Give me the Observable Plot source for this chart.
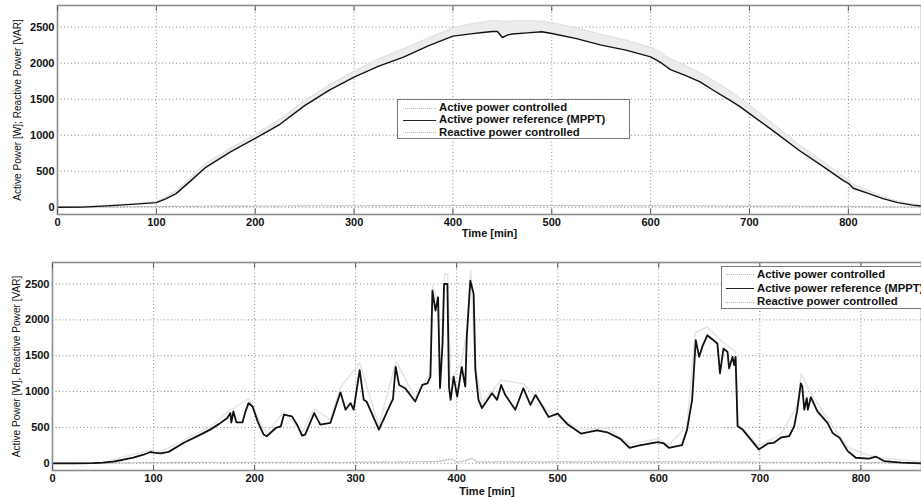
<!DOCTYPE html>
<html>
<head>
<meta charset="utf-8">
<script src="https://cdn.jsdelivr.net/npm/d3@7"></script>
<script src="https://cdn.jsdelivr.net/npm/@observablehq/plot@0.6"></script>
<style>
  html, body { margin: 0; padding: 0; background: #fff; }
  #wrap { position: relative; width: 921px; height: 497px; overflow: hidden; font-family: "Liberation Sans", Arial, sans-serif; }
  #top, #bot { position: absolute; left: 0; }
  #top { top: 0; }
  #bot { top: 240px; }
  svg { display: block; }
  .legend { position: absolute; background: #fff; border: 1px solid #777; box-sizing: border-box; font-weight: bold; font-size: 11.3px; color: #111; }
  .legend .row { position: absolute; white-space: nowrap; line-height: 12px; }
  .legend .sw { position: absolute; height: 0; }
  .sw.ctrl { border-top: 1px dotted #bbb; }
  .sw.ref { border-top: 1.6px solid #222; }
</style>
</head>
<body>
<div id="wrap">
  <div id="top"></div>
  <div id="bot"></div>
  <div class="legend" id="legTop" style="left:397px;top:99px;width:233px;height:40px;"></div>
  <div class="legend" id="legBot" style="left:721px;top:266px;width:220px;height:43px;"></div>
</div>
<script>
// ---------- data ----------
const xTicks = [0, 100, 200, 300, 400, 500, 600, 700, 800];
const yTicks = [0, 500, 1000, 1500, 2000, 2500];
const legendLabels = ["Active power controlled", "Active power reference (MPPT)", "Reactive power controlled"];
const xLabel = "Time [min]";
const yLabelTop = "Active Power [W]; Reactive Power [VAR]";
const yLabelBot = "Active Power [W], Reactive Power [VAR]";

// Top panel (clear day)
const refTopT = [0,25,50,75,100,110,120,135,150,175,200,225,250,275,300,325,350,375,400,420,430,440,445,450,455,460,475,490,500,525,550,575,600,610,615,620,635,650,665,680,690,700,725,750,775,795,800,805,820,835,850,865,874];
const refTopV = [0,2,20,40,65,120,190,370,555,770,955,1152,1410,1625,1806,1960,2083,2240,2375,2410,2425,2440,2440,2356,2390,2405,2420,2435,2412,2340,2250,2180,2088,2010,1960,1910,1830,1740,1610,1486,1400,1300,1050,792,560,370,333,264,194,120,65,30,18];
const ctrlTopV = [5,8,30,50,80,150,230,420,610,820,1010,1220,1480,1700,1890,2060,2200,2350,2490,2550,2570,2590,2590,2580,2580,2590,2590,2580,2560,2490,2400,2320,2220,2160,2100,2060,1970,1870,1750,1620,1520,1420,1150,870,630,430,390,320,240,150,85,45,30];
const reactTopT = [0,50,100,150,200,250,300,350,400,450,500,550,600,650,700,750,800,850,874];
const reactTopV = [0,5,10,15,15,20,20,25,25,25,25,20,20,20,15,15,10,5,5];

// Bottom panel (cloudy day)
const refBotT = [0,20,40,50,60,70,80,90,97,100,107,115,130,145,156,165,173,176,177,179,182,188,191,194,198,203,209,212,221,226,229,237,242,247,250,259,265,275,285,290,295,298,304,308,311,323,335,337,339.6,343,349,359,366,371,374,376,379,381.6,383.5,386,387.5,390.8,392.4,394,397,400.5,405,408.5,410,413.5,416.8,418.5,421.6,425,435,440,444,448,458,466,473,478,491,500,510,523,539,549,562,571,581,599,605,610,623,628,633,636.6,640,643,648,658,660.6,664,668,669.6,673,674.6,676,678,683,699,708,714,721,729,734,737,740.6,742,744,746.5,747.5,750.5,757,767,772,779,787,795,808,815,823,840,860];
const refBotV = [0,0,3,10,25,50,80,120,158,150,138,160,286,390,470,550,632,701,567,724,572,572,724,840,793,585,401,378,493,516,678,655,540,387,401,701,540,563,990,747,840,747,1300,885,858,470,840,900,1346,1093,1047,862,1093,1116,1208,2407,2130,2315,1050,1670,2500,2500,1070,885,1208,931,1346,1070,1761,2546,2362,1300,885,770,978,885,1093,955,747,1047,816,955,646,692,540,415,461,433,341,217,249,295,277,217,254,470,885,1716,1485,1623,1785,1670,1255,1600,1554,1324,1485,1370,1485,516,470,194,277,286,360,378,516,738,1116,1070,747,909,747,923,724,563,424,355,170,78,65,92,32,10,0];
const ctrlBotT = [0,50,97,107,130,156,176,179,194,203,212,229,247,259,275,285,304,323,340,359,374,376,381,384,388,391,394,405,410,414,418,425,444,466,491,523,549,571,599,610,628,636,648,658,664,676,678,699,721,737,741,750,767,787,808,823,860];
const ctrlBotV = [5,15,185,165,320,510,750,770,900,640,420,720,430,760,610,1060,1400,520,1420,920,1260,2480,2250,1150,2640,2640,1150,1420,1850,2680,1400,840,1160,1110,720,470,490,270,340,260,520,1820,1900,1760,1680,1560,570,240,410,800,1250,990,620,220,110,70,20];
const reactBotT = [0,50,100,150,200,250,300,350,380,395,400,405,415,420,430,500,550,600,650,700,750,800,860];
const reactBotV = [0,5,10,15,15,15,15,20,25,60,25,20,70,20,20,20,20,20,20,15,15,10,5];

// ---------- build ----------
const zip = (T, V) => T.map((t, i) => ({t, v: V[i]}));
const FONT = "Liberation Sans, Arial, sans-serif";

function panel({height, marginTop, marginBottom, marginLeft, xMax, ref, ctrl, ctrlBand, react, yLabel, yLabelDx, xLabelDy, refWidth}) {
  const marks = [
    Plot.gridX(xTicks, {stroke: "#8a8a8a", strokeOpacity: 1, strokeDasharray: "1,2.5"}),
    Plot.gridY(yTicks, {stroke: "#8a8a8a", strokeOpacity: 1, strokeDasharray: "1,2.5"}),
  ];
  if (ctrlBand) {
    marks.push(Plot.areaY(ctrlBand, {x: "t", y1: "lo", y2: "hi", fill: "#ececec"}));
    marks.push(Plot.lineY(ctrlBand, {x: "t", y: "hi", stroke: "#dadada", strokeWidth: 1, strokeDasharray: "1,1.5"}));
  }
  if (ctrl) {
    marks.push(Plot.lineY(ctrl, {x: "t", y: "v", stroke: "#e6e6e6", strokeWidth: 1.6}));
  }
  marks.push(
    Plot.lineY(react, {x: "t", y: "v", stroke: "#b8b8b8", strokeWidth: 1.2, strokeDasharray: "1.5,1.5"}),
    Plot.lineY(ref, {x: "t", y: "v", stroke: "#111", strokeWidth: refWidth}),
    Plot.frame({stroke: "#8c8c8c", strokeWidth: 1.6}),
    Plot.axisX(xTicks, {anchor: "bottom", tickSize: -5, tickFormat: () => "", label: null, stroke: "#555"}),
    Plot.axisX(xTicks, {anchor: "top", tickSize: -5, tickFormat: () => "", label: null, stroke: "#555"}),
    Plot.axisX(xTicks, {anchor: "bottom", tickSize: 0, tickPadding: 4, tickFormat: d3.format("d"), fontWeight: "bold", fontSize: 11, fill: "#111", label: null}),
    Plot.axisY(yTicks, {anchor: "left", tickSize: 0, tickPadding: 3, tickFormat: d3.format("d"), fontWeight: "bold", fontSize: 11, fill: "#111", label: null}),
    Plot.text([yLabel], {frameAnchor: "left", rotate: -90, textAnchor: "middle", dx: yLabelDx, fontSize: 10.1, fill: "#111"}),
    Plot.text([xLabel], {frameAnchor: "bottom", textAnchor: "middle", lineAnchor: "middle", dy: xLabelDy, fontSize: 11, fontWeight: "bold", fill: "#111"})
  );
  return Plot.plot({
    width: 921, height, marginTop, marginBottom, marginLeft, marginRight: 0,
    style: {fontFamily: FONT, background: "#fff", overflow: "visible"},
    x: {domain: [0, xMax], axis: null},
    y: {domain: [-100, 2800], axis: null},
    marks
  });
}

const topBand = refTopT.map((t, i) => ({t, lo: refTopV[i], hi: ctrlTopV[i]}));

document.getElementById("top").appendChild(panel({
  height: 240, marginTop: 5, marginBottom: 26, marginLeft: 57, xMax: 874,
  ref: zip(refTopT, refTopV), ctrlBand: topBand, react: zip(reactTopT, reactTopV),
  yLabel: yLabelTop, yLabelDx: -40, xLabelDy: 19, refWidth: 1.4
}));
document.getElementById("bot").appendChild(panel({
  height: 257, marginTop: 22, marginBottom: 27, marginLeft: 52, xMax: 860,
  ref: zip(refBotT, refBotV), ctrl: zip(ctrlBotT, ctrlBotV), react: zip(reactBotT, reactBotV),
  yLabel: yLabelBot, yLabelDx: -36, xLabelDy: 21, refWidth: 1.8
}));

// ---------- legends ----------
function legend(id, sx0, sx1, tx, rows) {
  const el = document.getElementById(id);
  legendLabels.forEach((lab, i) => {
    const sw = document.createElement("div");
    sw.className = "sw " + (i === 1 ? "ref" : "ctrl");
    sw.style.left = sx0 + "px"; sw.style.width = (sx1 - sx0) + "px"; sw.style.top = rows[i] + "px";
    el.appendChild(sw);
    const r = document.createElement("div");
    r.className = "row"; r.textContent = lab;
    r.style.left = tx + "px"; r.style.top = (rows[i] - 6.5) + "px";
    el.appendChild(r);
  });
}
legend("legTop", 5, 38, 41, [7.5, 19.5, 32]);
legend("legBot", 4, 32, 35, [7, 21, 34.5]);
</script>
</body>
</html>
